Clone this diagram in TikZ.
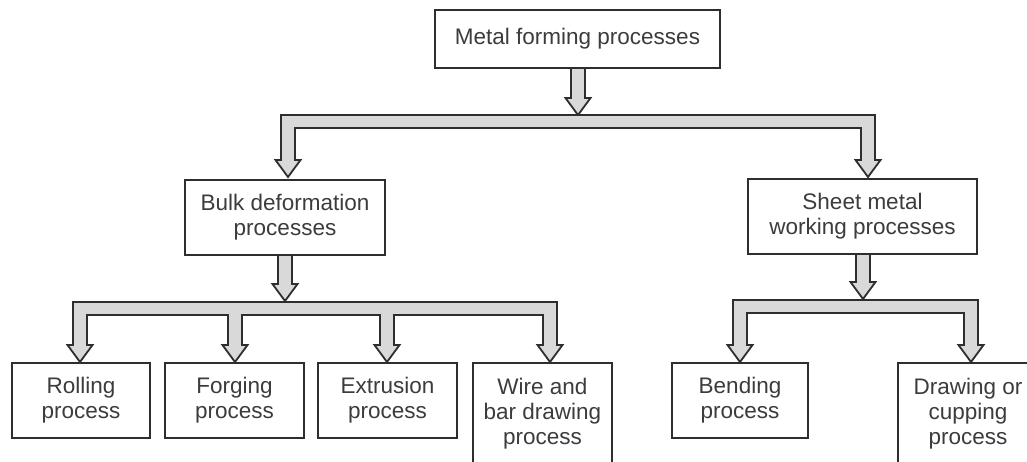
\documentclass[tikz,border=0pt]{standalone}
\usepackage{fontspec}
\setmainfont{Liberation Sans}
\definecolor{boxc}{HTML}{2E2E2E}
\definecolor{txtc}{HTML}{3C3C3C}
\definecolor{arrc}{HTML}{D9D9D9}
\begin{document}
\begin{tikzpicture}[x=1pt,y=-1pt,
  box/.style={draw=boxc, line width=2.2pt, rectangle, align=center,
    font=\fontsize{22.5}{25}\selectfont, text=txtc, inner sep=0pt},
  fat/.style={draw=boxc, line width=1.8pt, fill=arrc, line join=miter}]
\useasboundingbox (0,0) rectangle (1027,461);
\fill[white] (0,0) rectangle (1027,461);
\clip (0,0) rectangle (1027,461);

% fat arrows
\draw[fat] (571,68) -- (585,68) -- (585,98) -- (590.5,98) -- (578,115) -- (565.5,98) -- (571,98) -- cycle;
\draw[fat] (281,115) -- (875,115) -- (875,160) -- (880.5,160) -- (868,177) -- (855.5,160) -- (861,160)
  -- (861,128) -- (295,128) -- (295,160) -- (300.5,160) -- (288,177) -- (275.5,160) -- (281,160) -- cycle;
\draw[fat] (278,255) -- (292,255) -- (292,284) -- (297.5,284) -- (285,301) -- (272.5,284) -- (278,284) -- cycle;
\draw[fat] (73,302) -- (557,302) -- (557,345) -- (562.5,345) -- (550,362) -- (537.5,345) -- (543,345)
  -- (543,315) -- (394,315) -- (394,345) -- (399.5,345) -- (387,362) -- (374.5,345) -- (380,345)
  -- (380,315) -- (242,315) -- (242,345) -- (247.5,345) -- (235,362) -- (222.5,345) -- (228,345)
  -- (228,315) -- (87,315) -- (87,345) -- (92.5,345) -- (80,362) -- (67.5,345) -- (73,345) -- cycle;
\draw[fat] (856,254) -- (870,254) -- (870,282) -- (875.5,282) -- (863,299) -- (850.5,282) -- (856,282) -- cycle;
\draw[fat] (733,300) -- (978,300) -- (978,345) -- (983.5,345) -- (971,362) -- (958.5,345) -- (964,345)
  -- (964,313) -- (747,313) -- (747,345) -- (752.5,345) -- (740,362) -- (727.5,345) -- (733,345) -- cycle;

% boxes
\node[box, minimum width=285pt, minimum height=58pt] (top) at (577.5,39) {Metal forming processes};
\node[box, minimum width=200pt, minimum height=75pt] (bulk) at (285,217.5) {Bulk deformation\\processes};
\node[box, minimum width=229pt, minimum height=75pt] (sheet) at (862.5,216.5) {Sheet metal\\working processes};
\node[box, minimum width=138pt, minimum height=75pt] (rolling) at (81,400.5) {Rolling\\process};
\node[box, minimum width=139pt, minimum height=75pt] (forging) at (234.5,400.5) {Forging\\process};
\node[box, minimum width=139pt, minimum height=75pt] (extrusion) at (387.5,400.5) {Extrusion\\process};
\node[box, minimum width=139pt, minimum height=102pt] (wire) at (542.5,414) {Wire and\\bar drawing\\process};
\node[box, minimum width=136pt, minimum height=75pt] (bending) at (740,400.5) {Bending\\process};
\node[box, minimum width=140pt, minimum height=102pt] (drawing) at (968,414) {Drawing or\\cupping\\process};
\end{tikzpicture}
\end{document}
